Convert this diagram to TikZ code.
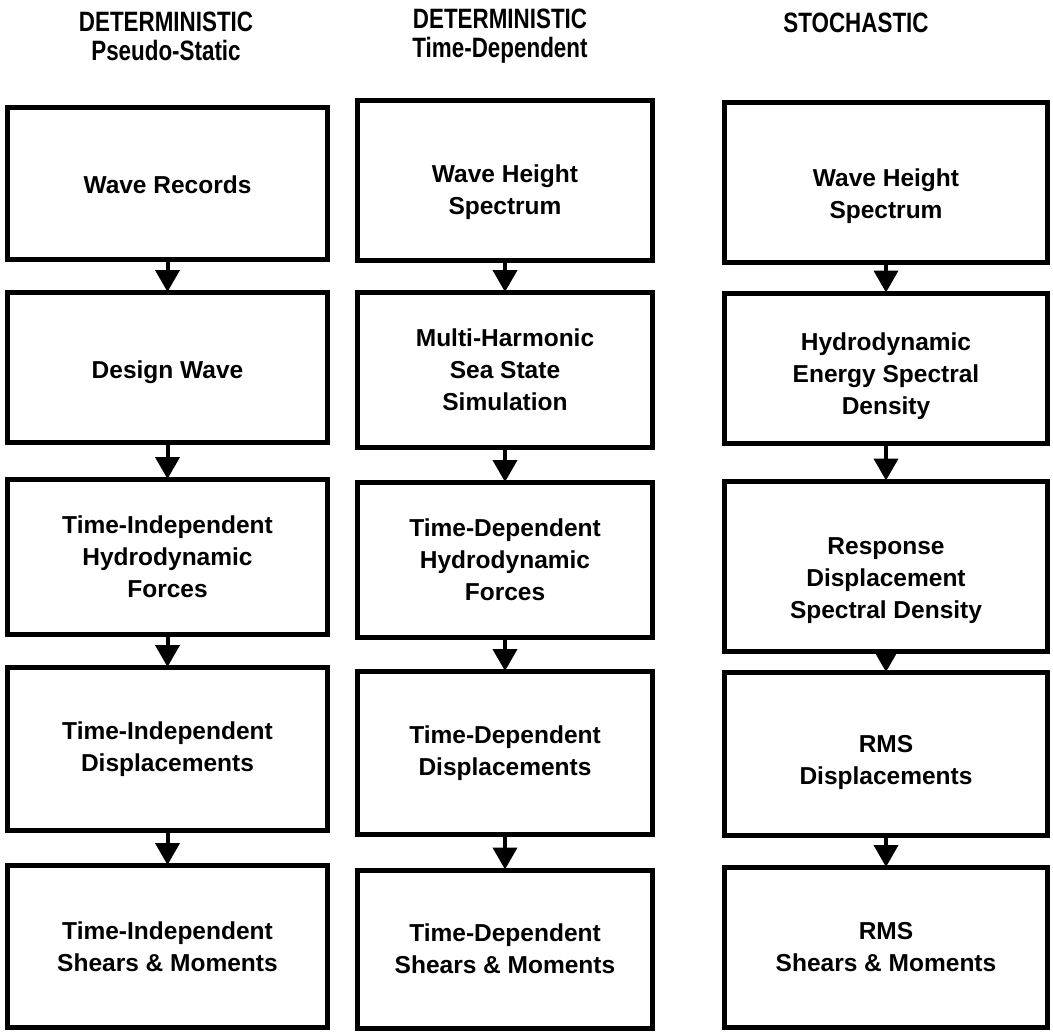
\documentclass[tikz,border=0pt]{standalone}
\usepackage{fontspec}
\setmainfont{Liberation Sans}
\usetikzlibrary{arrows.meta}
\newcommand{\lowertext}[2]{\raisebox{-#1}[\height][\depth]{\begin{tabular}{@{}c@{}}#2\end{tabular}}}
\begin{document}
\begin{tikzpicture}[x=1pt,y=-1pt,
  box/.style={draw, line width=5pt, rectangle, align=center, inner sep=0pt,
    font=\fontsize{24.5}{32}\selectfont\bfseries},
  head/.style={align=center, font=\fontsize{28}{29}\selectfont\bfseries, xscale=0.8},
  arr/.style={line width=4pt, -{Triangle[width=24pt,length=22pt]}, shorten >=-2pt}]
\useasboundingbox (0,0) rectangle (1053,1036);
% headings
\node[head] (h1) at (166,36) {DETERMINISTIC\\Pseudo-Static};
\node[head] (h2) at (500,36) {DETERMINISTIC\\Time-Dependent};
\node[head] (h3) at (856,23) {STOCHASTIC};
% column 1
\tikzset{c1/.style={box, minimum width=320pt}}
\node[c1, minimum height=152pt] (a1) at (167.5,183.5) {\lowertext{4pt}{Wave Records}};
\node[c1, minimum height=150pt] (a2) at (167.5,367.5) {\lowertext{5pt}{Design Wave}};
\node[c1, minimum height=155pt] (a3) at (167.5,557) {Time-Independent\\Hydrodynamic\\Forces};
\node[c1, minimum height=163pt] (a4) at (167.5,749) {Time-Independent\\Displacements};
\node[c1, minimum height=162pt] (a5) at (167.5,946.5) {Time-Independent\\Shears \& Moments};
% column 2
\tikzset{c2/.style={box, minimum width=295pt}}
\node[c2, minimum height=160pt] (b1) at (505,180) {\lowertext{12pt}{Wave Height\\Spectrum}};
\node[c2, minimum height=155pt] (b2) at (505,370) {Multi-Harmonic\\Sea State\\Simulation};
\node[c2, minimum height=155pt] (b3) at (505,560) {Time-Dependent\\Hydrodynamic\\Forces};
\node[c2, minimum height=163pt] (b4) at (505,753) {Time-Dependent\\Displacements};
\node[c2, minimum height=158pt] (b5) at (505,949) {Time-Dependent\\Shears \& Moments};
% column 3
\tikzset{c3/.style={box, minimum width=323pt}}
\node[c3, minimum height=160pt] (s1) at (886,182) {\lowertext{14pt}{Wave Height\\Spectrum}};
\node[c3, minimum height=150pt] (s2) at (886,368) {\lowertext{8pt}{Hydrodynamic\\Energy Spectral\\Density}};
\node[c3, minimum height=170pt] (s3) at (886,566) {\lowertext{14pt}{Response\\Displacement\\Spectral Density}};
\node[c3, minimum height=163pt] (s4) at (886,754) {\lowertext{8pt}{RMS\\Displacements}};
\node[c3, minimum height=160pt] (s5) at (886,947.5) {RMS\\Shears \& Moments};
% arrows
\foreach \p/\q in {a1/a2,a2/a3,a3/a4,a4/a5,b1/b2,b2/b3,b3/b4,b4/b5,s1/s2,s2/s3,s3/s4,s4/s5}
  \draw[arr] (\p.south) -- (\q.north);
\end{tikzpicture}
\end{document}
